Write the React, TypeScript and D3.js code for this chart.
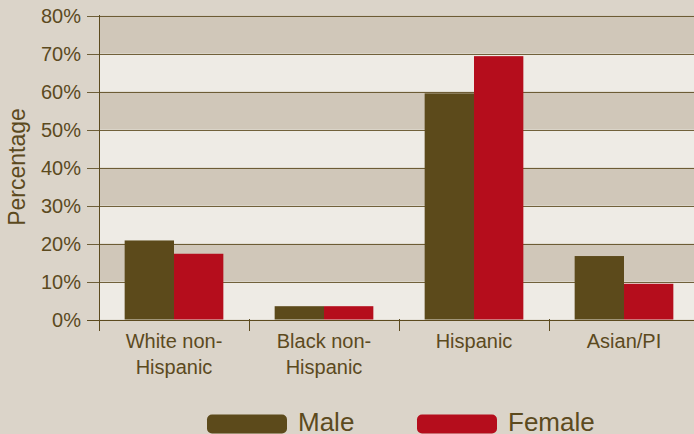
import React from "react";
import * as d3 from "d3";

const categories = ["White non-\nHispanic", "Black non-\nHispanic", "Hispanic", "Asian/PI"];
const seriesNames = ["Male", "Female"];
const maleValues = [20.8, 3.5, 59.5, 16.7];
const femaleValues = [17.3, 3.5, 69.3, 9.4];
const yTicks = [0, 10, 20, 30, 40, 50, 60, 70, 80];

const W = 694;
const H = 434;
const BG = "#dbd4c9";
const DARK_BAND = "#d0c7b9";
const LIGHT_BAND = "#eeebe5";
const TEXT = "#5c4a1e";
const LINE = "#5c4a1e";
const COLORS = ["#5c4a1b", "#b50d1c"];
const FONT = "'Liberation Sans', Arial, sans-serif";

export default function App() {
  const left = 99;
  const right = 699;
  const y = d3.scaleLinear().domain([0, 80]).range([319.5, 15.5]);
  const x = d3.scaleBand<string>().domain(categories).range([left, right]).paddingInner(0).paddingOuter(0);
  const sub = d3.scaleBand<string>().domain(seriesNames).range([0, x.bandwidth()]).paddingInner(0).paddingOuter(0.52);
  const values = [maleValues, femaleValues];

  const bands = yTicks.slice(0, -1).map((t, i) => ({ lo: t, hi: yTicks[i + 1], dark: i % 2 === 1 }));

  return (
    <svg width={W} height={H} style={{ position: "fixed", left: 0, top: 0, background: BG }} fontFamily={FONT}>
      <rect x={0} y={0} width={W} height={H} fill={BG} />
      {bands.map((b) => (
        <rect key={b.lo} x={left} y={y(b.hi)} width={right - left} height={y(b.lo) - y(b.hi)} fill={b.dark ? DARK_BAND : LIGHT_BAND} />
      ))}
      {yTicks.map((t) => (
        <g key={t}>
          <line x1={87} x2={right} y1={Math.round(y(t)) + 0.5} y2={Math.round(y(t)) + 0.5} stroke={LINE} strokeWidth={1} opacity={t === 0 ? 1 : 0.85} />
          <text x={81} y={y(t)} dy="0.35em" textAnchor="end" fontSize={20} fill={TEXT}>{t}%</text>
        </g>
      ))}
      {categories.map((c, ci) => (
        <g key={c}>
          {seriesNames.map((s, si) => (
            <rect key={s} x={(x(c) as number) + (sub(s) as number)} y={y(values[si][ci])} width={sub.bandwidth()} height={y(0) - y(values[si][ci])} fill={COLORS[si]} />
          ))}
        </g>
      ))}
      <line x1={left + 0.5} x2={left + 0.5} y1={15} y2={331} stroke={LINE} strokeWidth={1} />
      {categories.slice(1).map((c) => (
        <line key={c} x1={Math.round(x(c) as number) + 0.5} x2={Math.round(x(c) as number) + 0.5} y1={319} y2={331} stroke={LINE} strokeWidth={1} />
      ))}
      {categories.map((c) => {
        const lines = c.split("\n");
        const cx = (x(c) as number) + x.bandwidth() / 2;
        return (
          <text key={c} x={cx} y={348} textAnchor="middle" fontSize={20} fill={TEXT}>
            {lines.map((l, i) => (
              <tspan key={i} x={cx} y={348 + i * 26}>{l}</tspan>
            ))}
          </text>
        );
      })}
      <text transform={`translate(25,167) rotate(-90)`} textAnchor="middle" fontSize={23} fill={TEXT}>Percentage</text>
      {seriesNames.map((s, i) => {
        const lx = [207, 417][i];
        return (
          <g key={s}>
            <rect x={lx} y={414.5} width={80} height={19} rx={5} fill={COLORS[i]} />
            <text x={lx + 91} y={430.5} fontSize={26} fill={TEXT}>{s}</text>
          </g>
        );
      })}
    </svg>
  );
}
